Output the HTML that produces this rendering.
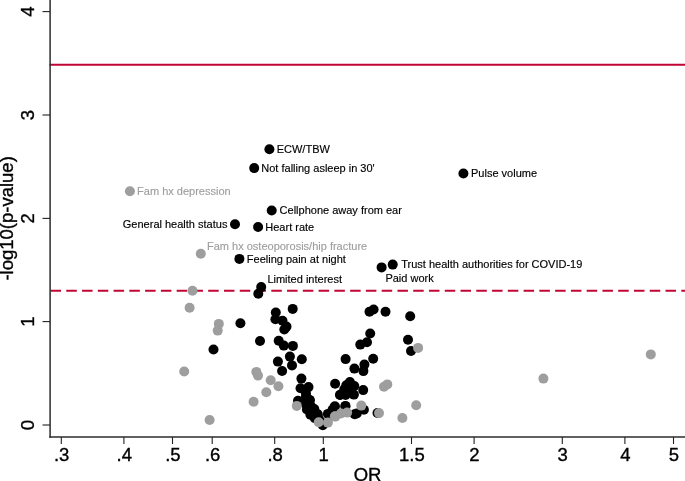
<!DOCTYPE html>
<html><head><meta charset="utf-8"><title>Volcano plot</title>
<style>html,body{margin:0;padding:0;background:#fff}svg{display:block}text{font-family:"Liberation Sans",Arial,Helvetica,sans-serif}.b text{stroke:#000;stroke-width:.35px}.s text{stroke-width:.15px}</style></head>
<body>
<svg width="685" height="481" viewBox="0 0 685 481">
<rect width="685" height="481" fill="#fff"/>
<line x1="49.6" y1="64.8" x2="685" y2="64.8" stroke="#c10534" stroke-width="2"/>
<line x1="50.5" y1="290.8" x2="685" y2="290.8" stroke="#c10534" stroke-width="2" stroke-dasharray="10.5 5.27"/>
<g fill="#000">
<circle cx="269.4" cy="149.3" r="5.0"/>
<circle cx="254.2" cy="168.1" r="5.0"/>
<circle cx="463.4" cy="173.5" r="5.0"/>
<circle cx="271.7" cy="210.5" r="5.0"/>
<circle cx="235.0" cy="224.2" r="5.0"/>
<circle cx="258.1" cy="227.0" r="5.0"/>
<circle cx="239.4" cy="258.9" r="5.0"/>
<circle cx="392.7" cy="264.6" r="5.0"/>
<circle cx="381.6" cy="267.4" r="5.0"/>
<circle cx="261.2" cy="287.1" r="5.0"/>
<circle cx="258.3" cy="293.7" r="5.0"/>
<circle cx="240.4" cy="323.3" r="5.0"/>
<circle cx="213.5" cy="349.5" r="5.0"/>
<circle cx="292.7" cy="308.9" r="5.0"/>
<circle cx="275.8" cy="312.5" r="5.0"/>
<circle cx="275.4" cy="319.2" r="5.0"/>
<circle cx="282.5" cy="320.7" r="5.0"/>
<circle cx="286.5" cy="326.6" r="5.0"/>
<circle cx="284.3" cy="329.5" r="5.0"/>
<circle cx="260.0" cy="341.0" r="5.0"/>
<circle cx="278.7" cy="340.7" r="5.0"/>
<circle cx="283.8" cy="345.6" r="5.0"/>
<circle cx="292.9" cy="345.9" r="5.0"/>
<circle cx="289.9" cy="356.6" r="5.0"/>
<circle cx="301.8" cy="359.3" r="5.0"/>
<circle cx="277.9" cy="361.6" r="5.0"/>
<circle cx="292.0" cy="365.4" r="5.0"/>
<circle cx="282.1" cy="371.0" r="5.0"/>
<circle cx="301.4" cy="378.6" r="5.0"/>
<circle cx="300.5" cy="388.3" r="5.0"/>
<circle cx="308.5" cy="387.1" r="5.0"/>
<circle cx="298.0" cy="400.7" r="5.0"/>
<circle cx="306.0" cy="393.5" r="5.0"/>
<circle cx="306.0" cy="396.5" r="5.0"/>
<circle cx="309.5" cy="399.9" r="5.0"/>
<circle cx="306.5" cy="403.4" r="5.0"/>
<circle cx="310.8" cy="406.0" r="5.0"/>
<circle cx="306.9" cy="409.5" r="5.0"/>
<circle cx="312.2" cy="411.3" r="5.0"/>
<circle cx="310.4" cy="414.8" r="5.0"/>
<circle cx="316.5" cy="413.9" r="5.0"/>
<circle cx="314.8" cy="418.3" r="5.0"/>
<circle cx="318.7" cy="418.7" r="5.0"/>
<circle cx="322.8" cy="425.2" r="5.0"/>
<circle cx="309.9" cy="400.3" r="5.0"/>
<circle cx="305.5" cy="403.8" r="5.0"/>
<circle cx="314.3" cy="409.0" r="5.0"/>
<circle cx="317.8" cy="414.3" r="5.0"/>
<circle cx="315.1" cy="416.9" r="5.0"/>
<circle cx="320.5" cy="421.5" r="5.0"/>
<circle cx="327.9" cy="413.9" r="5.0"/>
<circle cx="330.0" cy="415.1" r="5.0"/>
<circle cx="332.5" cy="409.7" r="5.0"/>
<circle cx="334.9" cy="406.2" r="5.0"/>
<circle cx="345.4" cy="405.9" r="5.0"/>
<circle cx="354.6" cy="414.3" r="5.0"/>
<circle cx="340.2" cy="394.8" r="5.0"/>
<circle cx="345.6" cy="395.0" r="5.0"/>
<circle cx="353.9" cy="394.6" r="5.0"/>
<circle cx="340.0" cy="395.0" r="5.0"/>
<circle cx="335.1" cy="383.8" r="5.0"/>
<circle cx="349.9" cy="382.0" r="5.0"/>
<circle cx="346.3" cy="385.2" r="5.0"/>
<circle cx="354.3" cy="386.0" r="5.0"/>
<circle cx="363.2" cy="390.1" r="5.0"/>
<circle cx="348.9" cy="389.9" r="5.0"/>
<circle cx="344.3" cy="389.3" r="5.0"/>
<circle cx="334.5" cy="407.0" r="5.0"/>
<circle cx="345.4" cy="406.5" r="5.0"/>
<circle cx="330.5" cy="414.4" r="5.0"/>
<circle cx="363.9" cy="409.8" r="5.0"/>
<circle cx="356.8" cy="413.5" r="5.0"/>
<circle cx="377.5" cy="413.0" r="5.0"/>
<circle cx="369.5" cy="311.8" r="5.0"/>
<circle cx="373.6" cy="309.5" r="5.0"/>
<circle cx="385.5" cy="311.8" r="5.0"/>
<circle cx="410.2" cy="316.2" r="5.0"/>
<circle cx="370.2" cy="333.5" r="5.0"/>
<circle cx="367.0" cy="342.2" r="5.0"/>
<circle cx="360.3" cy="344.6" r="5.0"/>
<circle cx="408.0" cy="339.7" r="5.0"/>
<circle cx="411.0" cy="351.0" r="5.0"/>
<circle cx="345.6" cy="359.1" r="5.0"/>
<circle cx="373.2" cy="358.8" r="5.0"/>
<circle cx="364.4" cy="364.6" r="5.0"/>
<circle cx="354.4" cy="368.6" r="5.0"/>
<circle cx="363.4" cy="371.1" r="5.0"/>
</g><g fill="#9e9e9e">
<circle cx="129.9" cy="191.3" r="5.0"/>
<circle cx="200.8" cy="253.7" r="5.0"/>
<circle cx="192.5" cy="290.8" r="5.0"/>
<circle cx="189.6" cy="307.7" r="5.0"/>
<circle cx="218.8" cy="323.9" r="5.0"/>
<circle cx="217.7" cy="330.6" r="5.0"/>
<circle cx="184.2" cy="371.5" r="5.0"/>
<circle cx="209.6" cy="420.0" r="5.0"/>
<circle cx="253.6" cy="401.7" r="5.0"/>
<circle cx="266.3" cy="392.2" r="5.0"/>
<circle cx="258.0" cy="375.6" r="5.0"/>
<circle cx="270.7" cy="380.2" r="5.0"/>
<circle cx="256.3" cy="371.9" r="5.0"/>
<circle cx="278.4" cy="386.2" r="5.0"/>
<circle cx="296.8" cy="405.9" r="5.0"/>
<circle cx="318.7" cy="422.3" r="5.0"/>
<circle cx="327.9" cy="422.6" r="5.0"/>
<circle cx="335.3" cy="416.6" r="5.0"/>
<circle cx="341.0" cy="413.4" r="5.0"/>
<circle cx="347.1" cy="412.6" r="5.0"/>
<circle cx="334.9" cy="416.2" r="5.0"/>
<circle cx="361.3" cy="405.6" r="5.0"/>
<circle cx="379.0" cy="413.1" r="5.0"/>
<circle cx="384.0" cy="386.8" r="5.0"/>
<circle cx="387.3" cy="384.4" r="5.0"/>
<circle cx="416.2" cy="405.2" r="5.0"/>
<circle cx="402.4" cy="418.0" r="5.0"/>
<circle cx="418.1" cy="347.9" r="5.0"/>
<circle cx="543.4" cy="378.6" r="5.0"/>
<circle cx="650.8" cy="354.4" r="5.0"/>
</g>
<line x1="50.1" y1="0" x2="50.1" y2="437.7" stroke="#2c2c2c" stroke-width="1.5"/>
<line x1="49.3" y1="436.9" x2="685" y2="436.9" stroke="#2c2c2c" stroke-width="1.5"/>
<g class="b">
<line x1="61.3" y1="437" x2="61.3" y2="444" stroke="#222" stroke-width="1.1"/>
<text x="61.7" y="461" font-size="18.5" text-anchor="middle" fill="#000">.3</text>
<line x1="123.9" y1="437" x2="123.9" y2="444" stroke="#222" stroke-width="1.1"/>
<text x="124.3" y="461" font-size="18.5" text-anchor="middle" fill="#000">.4</text>
<line x1="172.5" y1="437" x2="172.5" y2="444" stroke="#222" stroke-width="1.1"/>
<text x="172.9" y="461" font-size="18.5" text-anchor="middle" fill="#000">.5</text>
<line x1="212.2" y1="437" x2="212.2" y2="444" stroke="#222" stroke-width="1.1"/>
<text x="212.6" y="461" font-size="18.5" text-anchor="middle" fill="#000">.6</text>
<line x1="274.7" y1="437" x2="274.7" y2="444" stroke="#222" stroke-width="1.1"/>
<text x="275.1" y="461" font-size="18.5" text-anchor="middle" fill="#000">.8</text>
<line x1="323.3" y1="437" x2="323.3" y2="444" stroke="#222" stroke-width="1.1"/>
<text x="323.7" y="461" font-size="18.5" text-anchor="middle" fill="#000">1</text>
<line x1="411.5" y1="437" x2="411.5" y2="444" stroke="#222" stroke-width="1.1"/>
<text x="411.9" y="461" font-size="18.5" text-anchor="middle" fill="#000">1.5</text>
<line x1="474.1" y1="437" x2="474.1" y2="444" stroke="#222" stroke-width="1.1"/>
<text x="474.5" y="461" font-size="18.5" text-anchor="middle" fill="#000">2</text>
<line x1="562.3" y1="437" x2="562.3" y2="444" stroke="#222" stroke-width="1.1"/>
<text x="562.7" y="461" font-size="18.5" text-anchor="middle" fill="#000">3</text>
<line x1="624.9" y1="437" x2="624.9" y2="444" stroke="#222" stroke-width="1.1"/>
<text x="625.3" y="461" font-size="18.5" text-anchor="middle" fill="#000">4</text>
<line x1="673.5" y1="437" x2="673.5" y2="444" stroke="#222" stroke-width="1.1"/>
<text x="673.9" y="461" font-size="18.5" text-anchor="middle" fill="#000">5</text>
<line x1="42.5" y1="425.0" x2="50" y2="425.0" stroke="#222" stroke-width="1.1"/>
<text transform="translate(33.6,425.0) rotate(-90)" font-size="18.5" text-anchor="middle" fill="#000">0</text>
<line x1="42.5" y1="321.6" x2="50" y2="321.6" stroke="#222" stroke-width="1.1"/>
<text transform="translate(33.6,321.6) rotate(-90)" font-size="18.5" text-anchor="middle" fill="#000">1</text>
<line x1="42.5" y1="218.4" x2="50" y2="218.4" stroke="#222" stroke-width="1.1"/>
<text transform="translate(33.6,218.4) rotate(-90)" font-size="18.5" text-anchor="middle" fill="#000">2</text>
<line x1="42.5" y1="115.0" x2="50" y2="115.0" stroke="#222" stroke-width="1.1"/>
<text transform="translate(33.6,115.0) rotate(-90)" font-size="18.5" text-anchor="middle" fill="#000">3</text>
<line x1="42.5" y1="11.6" x2="50" y2="11.6" stroke="#222" stroke-width="1.1"/>
<text transform="translate(33.6,11.6) rotate(-90)" font-size="18.5" text-anchor="middle" fill="#000">4</text>
<text transform="translate(13.4,218.4) rotate(-90)" font-size="18.5" text-anchor="middle" fill="#000">-log10(p-value)</text>
<text x="367.6" y="480.6" font-size="18.5" text-anchor="middle" fill="#000">OR</text>
</g><g class="s">
<text x="276.7" y="153.3" font-size="11" text-anchor="start" fill="#000" stroke="#000">ECW/TBW</text>
<text x="261.3" y="172.0" font-size="11" text-anchor="start" fill="#000" stroke="#000">Not falling asleep in 30'</text>
<text x="471.0" y="177.4" font-size="11" text-anchor="start" fill="#000" stroke="#000">Pulse volume</text>
<text x="137.1" y="195.2" font-size="11" text-anchor="start" fill="#9e9e9e" stroke="#9e9e9e">Fam hx depression</text>
<text x="279.6" y="214.4" font-size="11" text-anchor="start" fill="#000" stroke="#000">Cellphone away from ear</text>
<text x="227.4" y="227.8" font-size="11" text-anchor="end" fill="#000" stroke="#000">General health status</text>
<text x="265.3" y="230.8" font-size="11" text-anchor="start" fill="#000" stroke="#000">Heart rate</text>
<text x="207.0" y="249.7" font-size="11" text-anchor="start" fill="#9e9e9e" stroke="#9e9e9e">Fam hx osteoporosis/hip fracture</text>
<text x="246.8" y="262.8" font-size="11" text-anchor="start" fill="#000" stroke="#000">Feeling pain at night</text>
<text x="401.2" y="268.4" font-size="11" text-anchor="start" fill="#000" stroke="#000">Trust health authorities for COVID-19</text>
<text x="385.4" y="281.8" font-size="11" text-anchor="start" fill="#000" stroke="#000">Paid work</text>
<text x="267.4" y="282.9" font-size="11" text-anchor="start" fill="#000" stroke="#000">Limited interest</text>
</g>
</svg>
</body></html>
